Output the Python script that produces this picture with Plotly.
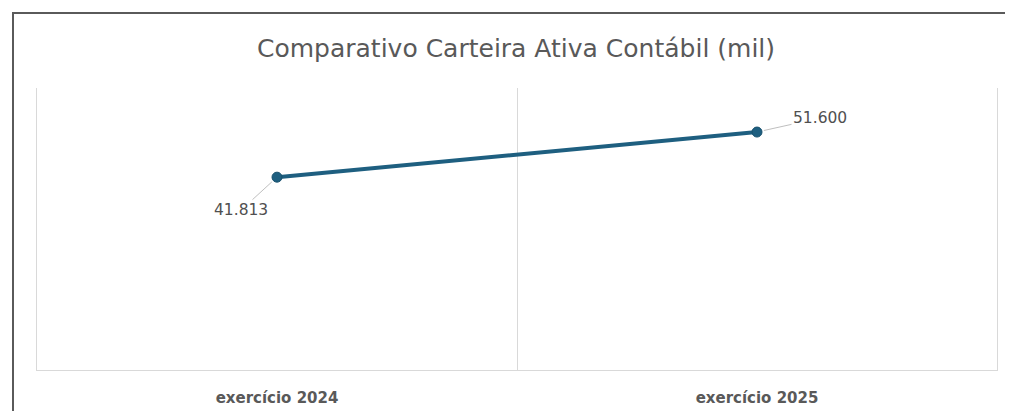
import plotly.graph_objects as go

categories = ["exercício 2024", "exercício 2025"]
values = [41813, 51600]
label_offsets_x = [-36, 63]
label_offsets_y = [33, -14]

LINE_COLOR = "#1e5f80"
TEXT_GRAY = "#595959"

# page has an 8px body margin; size the figure so the plot lands where the reference has it
W, H = 1005, 403

fig = go.Figure()
fig.add_trace(go.Scatter(
    x=categories, y=values, mode="lines+markers",
    line=dict(color=LINE_COLOR, width=4),
    marker=dict(size=10, color=LINE_COLOR, line=dict(color="#17506d", width=1)),
    hoverinfo="skip", showlegend=False,
))

annotations = []
for c, v, ax, ay in zip(categories, values, label_offsets_x, label_offsets_y):
    annotations.append(dict(
        x=c, y=v, xref="x", yref="y",
        text=f"{v:,}".replace(",", "."),
        showarrow=True, arrowhead=0, arrowwidth=1, arrowcolor="#bfbfbf",
        ax=ax, ay=ay, standoff=7,
        font=dict(family="DejaVu Sans", size=15.5, color="#505050"),
    ))

fig.update_layout(
    width=W, height=H,
    margin=dict(l=29, r=16, t=80, b=41, autoexpand=False),
    paper_bgcolor="white", plot_bgcolor="white",
    title=dict(
        text="Comparativo Carteira Ativa Contábil (mil)",
        x=(516 - 8) / W, xanchor="center", xref="container",
        y=1 - 40 / H, yanchor="middle", yref="container",
        font=dict(family="DejaVu Sans", size=25, color=TEXT_GRAY),
        automargin=False,
    ),
    xaxis=dict(
        type="category", range=[-0.5, 1.5], tickson="boundaries",
        showgrid=True, gridcolor="#d9d9d9", gridwidth=1,
        showline=True, linecolor="#d9d9d9", linewidth=1,
        ticks="", ticklabelstandoff=14, automargin=False,
        tickfont=dict(family="DejaVu Sans", size=15, color=TEXT_GRAY, weight="bold"),
        zeroline=False, fixedrange=True,
    ),
    yaxis=dict(
        range=[0, 61150], showgrid=False, showticklabels=False,
        zeroline=False, showline=True, mirror=True, automargin=False,
        linecolor="#d9d9d9", linewidth=1, ticks="", fixedrange=True,
    ),
    annotations=annotations,
    shapes=[dict(
        type="rect", xref="paper", yref="paper",
        x0=-0.025, x1=1.05, y0=-0.3, y1=1.266,
        line=dict(color="#5a5a5a", width=2), fillcolor="rgba(0,0,0,0)",
        layer="above",
    )],
)

fig.write_html("out.html")
